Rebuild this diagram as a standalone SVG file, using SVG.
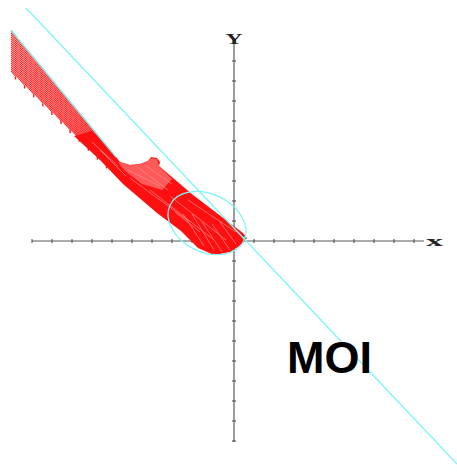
<svg xmlns="http://www.w3.org/2000/svg" width="457" height="475" viewBox="0 0 457 475">
<defs>
<linearGradient id="fanFill" x1="11" y1="40" x2="110" y2="160" gradientUnits="userSpaceOnUse">
<stop offset="0" stop-color="#ffd6d6"/>
<stop offset="0.6" stop-color="#ffa0a0"/>
<stop offset="1" stop-color="#ff4a4a"/>
</linearGradient>
</defs>
<style>
.ax{stroke:#5a5a5a;stroke-width:1.2;fill:none}
.tk{stroke:#444;stroke-width:1}
.fan{stroke:#ff2020;stroke-width:1;fill:none}
.tooth{stroke:#ff1a1a;stroke-width:1.4}
.streak{stroke:#ff8c8c;stroke-width:0.7;fill:none}
.cy{stroke:#7ff5f5;stroke-width:1.3;fill:none}
.lbl{font-family:"Liberation Serif",serif;fill:#222;font-weight:bold}
.moi{font-family:"Liberation Sans",Arial,sans-serif;font-weight:bold;font-size:45px;fill:#000}
</style>
<rect width="457" height="475" fill="#fff"/>
<g id="axes">
<line class="ax" x1="32" y1="241" x2="424" y2="241"/>
<line class="ax" x1="234" y1="44" x2="234" y2="442"/>
<path class="tk" d="M32 239v4M52 239v4M72 239v4M92 239v4M112 239v4M132 239v4M152 239v4M172 239v4M192 239v4M212 239v4M254 239v4M274 239v4M294 239v4M314 239v4M334 239v4M354 239v4M374 239v4M394 239v4M414 239v4"/>
<path class="tk" d="M232 61h4M232 81h4M232 101h4M232 121h4M232 141h4M232 161h4M232 181h4M232 201h4M232 221h4M232 261h4M232 281h4M232 301h4M232 321h4M232 341h4M232 361h4M232 381h4M232 401h4M232 421h4M232 441h4"/>
<text class="lbl" x="225.5" y="44" font-size="14" textLength="17" lengthAdjust="spacingAndGlyphs">Y</text>
<text class="lbl" x="426" y="245.5" font-size="15" textLength="17" lengthAdjust="spacingAndGlyphs">x</text>
</g>
<g id="fan">
<polygon fill="url(#fanFill)" points="11,30 114,154 112,171 106.5,165.6 97.4,156.7 88.3,147.8 79.2,138.8 70.1,129.9 61,121 51.9,112.1 42.8,103.2 33.7,94.3 24.6,85.4 15.5,76.4 11,72"/>
<line class="fan" x1="11" y1="71" x2="15.5" y2="76.4"/>
<line class="fan" x1="11" y1="69" x2="24.6" y2="85.4"/>
<line class="fan" x1="11" y1="67" x2="33.7" y2="94.3"/>
<line class="fan" x1="11" y1="65" x2="42.8" y2="103.2"/>
<line class="fan" x1="11" y1="63" x2="51.9" y2="112.1"/>
<line class="fan" x1="11" y1="61" x2="61" y2="121"/>
<line class="fan" x1="11" y1="59" x2="70.1" y2="129.9"/>
<line class="fan" x1="11" y1="57" x2="79.2" y2="138.8"/>
<line class="fan" x1="11" y1="55" x2="88.3" y2="147.8"/>
<line class="fan" x1="11" y1="53" x2="97.4" y2="156.7"/>
<line class="fan" x1="11" y1="51" x2="106.5" y2="165.6"/>
<line class="fan" x1="11" y1="49" x2="112" y2="170.2"/>
<line class="fan" x1="11" y1="47" x2="112" y2="168.2"/>
<line class="fan" x1="11" y1="45" x2="112" y2="166.2"/>
<line class="fan" x1="11" y1="43" x2="112" y2="164.2"/>
<line class="fan" x1="11" y1="41" x2="112" y2="162.2"/>
<line class="fan" x1="11" y1="39" x2="112" y2="160.2"/>
<line class="fan" x1="11" y1="37" x2="112" y2="158.2"/>
<line class="fan" x1="11" y1="35" x2="112" y2="156.2"/>
<line class="fan" x1="11" y1="33" x2="112" y2="154.2"/>
<line class="fan" x1="11" y1="31" x2="112" y2="152.2"/>
<path class="tooth" d="M15.5 76.4v3M24.6 85.4v3M33.7 94.3v3M42.8 103.2v3M51.9 112.1v3M61 121v3M70.1 129.9v3M79.2 138.8v3M88.3 147.8v3M97.4 156.7v3M106.5 165.6v3"/>
</g>
<g id="band">
<polygon fill="#ff1010" points="92,131 112,152 120,162 130,165 140,164 148,161 151,157 157,158 160,162 159,166 193,195 243,233 247,238 244,242 238,247 230,252 214,255 198,248 181,231 157,213 123,184 100,160 74,136"/>
<polygon fill="#ff5a5a" points="118,162 130,165 140,164 148,161 151,158 157,159 159,166 172,179 162,190 142,184 124,170"/>
<path class="streak" d="M92 142L118 166M100 150L126 176M128 170L160 186M136 166L168 190M145 165L172 184M130 178L190 222M150 190L214 240M170 196L226 240M188 200L236 232M175 212L200 232M183 214L204 246M192 214L214 250M202 222L222 252M212 224L230 250M220 222L236 244"/>
<circle cx="244" cy="238" r="1.6" fill="#33cc33"/>
</g>
<g id="curves">
<line class="cy" x1="26" y1="8" x2="457" y2="464"/>
<line class="cy" x1="11" y1="30" x2="116" y2="157"/>
<ellipse class="cy" cx="207" cy="223" rx="41" ry="29" transform="rotate(26 207 223)"/>
</g>
<text class="moi" x="287" y="373">MOI</text>
</svg>
